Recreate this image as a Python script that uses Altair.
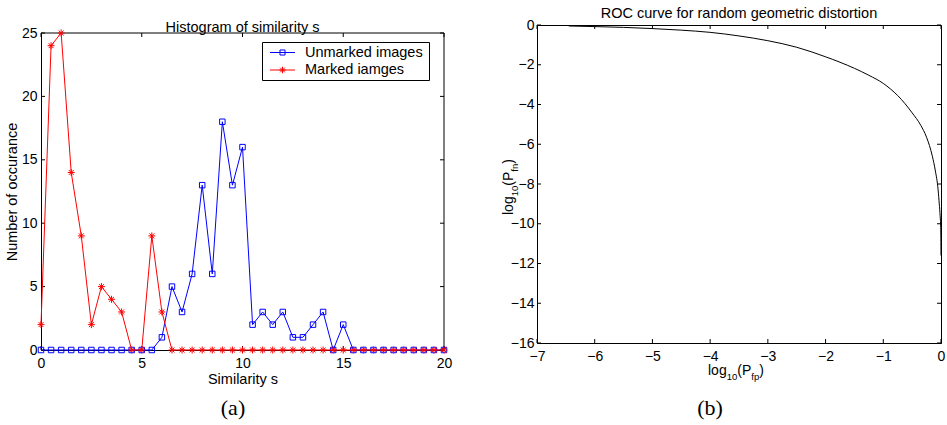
import altair as alt
import pandas as pd

# ---------------- data ----------------
sim_x = [0.0, 0.5, 1.0, 1.5, 2.0, 2.5, 3.0, 3.5, 4.0, 4.5, 5.0, 5.5, 6.0, 6.5,
         7.0, 7.5, 8.0, 8.5, 9.0, 9.5, 10.0, 10.5, 11.0, 11.5, 12.0, 12.5, 13.0,
         13.5, 14.0, 14.5, 15.0, 15.5, 16.0, 16.5, 17.0, 17.5, 18.0, 18.5, 19.0,
         19.5, 20.0]
unmarked = [0, 0, 0, 0, 0, 0, 0, 0, 0, 0, 0, 0, 1, 5, 3, 6, 13, 6, 18, 13, 16,
            2, 3, 2, 3, 1, 1, 2, 3, 0, 2, 0, 0, 0, 0, 0, 0, 0, 0, 0, 0]
marked = [2, 24, 25, 14, 9, 2, 5, 4, 3, 0, 0, 9, 3, 0, 0, 0, 0, 0, 0, 0, 0,
          0, 0, 0, 0, 0, 0, 0, 0, 0, 0, 0, 0, 0, 0, 0, 0, 0, 0, 0, 0]
series_names = ["Unmarked images", "Marked iamges"]
left_xticks = [0, 5, 10, 15, 20]
left_yticks = [0, 5, 10, 15, 20, 25]

roc_x = [-6.45, -6.0, -5.5, -5.0, -4.5, -4.0, -3.5, -3.0, -2.5, -2.0, -1.5,
         -1.25, -1.0, -0.875, -0.75, -0.5, -0.35, -0.25, -0.15, -0.1, -0.05,
         -0.03, -0.015, -0.005, 0.0]
roc_y = [-0.05, -0.08, -0.12, -0.18, -0.26, -0.37, -0.55, -0.79, -1.12, -1.6,
         -2.18, -2.53, -2.94, -3.22, -3.55, -4.42, -5.05, -5.65, -6.6, -7.3,
         -8.3, -9.0, -9.6, -10.2, -11.6]
right_xticks = [-7, -6, -5, -4, -3, -2, -1, 0]
right_yticks = [-16, -14, -12, -10, -8, -6, -4, -2, 0]

# ---------------- style ----------------
FONT = "Liberation Sans"
SERIF = "Liberation Serif"
BLUE = "#0000ff"
RED = "#ff0000"
LW, LH, LTOP = 403, 325, 8      # left plot box spans y = LTOP .. LH
RW, RH = 404, 318
TICK = 4

SQUARE = "M-1,-1H1V1H-1Z"
ASTER = "M0,-1V1M-1,0H1M-0.7,-0.7L0.7,0.7M-0.7,0.7L0.7,-0.7"
LEG_SQ = "M-1.79,0H1.79M-0.36,-0.36H0.36V0.36H-0.36ZM20.2,0L20.2,0"
LEG_AS = ("M-1.79,0H1.79M0,-0.46V0.46M-0.46,0H0.46M-0.33,-0.33L0.33,0.33"
          "M-0.33,0.33L0.33,-0.33M20.2,0L20.2,0")


def axis(title, values, pad, tpad):
    return alt.Axis(title=title, values=values, ticks=False, grid=False,
                    labelFont=FONT, labelFontSize=14, labelColor="black",
                    titleFont=FONT, titleFontSize=14.5, titleColor="black",
                    titleFontWeight="normal", domainColor="black",
                    domainWidth=1, labelPadding=pad, titlePadding=tpad,
                    labelFlush=False, labelOverlap=False)


rule = dict(color="black", strokeWidth=1)


def text_piece(txt, x, y, size, font=FONT, angle=0, align="left",
               baseline="alphabetic"):
    return alt.Chart(pd.DataFrame({"t": [txt]})).mark_text(
        font=font, fontSize=size, color="black", align=align,
        baseline=baseline, angle=angle).encode(
        text="t:N", x=alt.value(x), y=alt.value(y))


def frame_rule(x, x2, y, y2):
    return alt.Chart(pd.DataFrame({"t": [0]})).mark_rule(**rule).encode(
        x=alt.value(x), x2=alt.value(x2), y=alt.value(y), y2=alt.value(y2))


# ---------------- left panel ----------------
hist = pd.DataFrame({
    "s": sim_x + sim_x,
    "count": unmarked + marked,
    "series": [series_names[0]] * len(sim_x) + [series_names[1]] * len(sim_x),
})
xs_l = alt.Scale(domain=[0, 20], nice=False, zero=False)
ys_l = alt.Scale(domain=[0, 25], nice=False, range=[LH, LTOP])
X_l = alt.X("s:Q", scale=xs_l, axis=axis("Similarity s", left_xticks, 6, 2))
Y_l = alt.Y("count:Q", scale=ys_l,
            axis=axis("Number of occurance", left_yticks, 4, 2))

legend = alt.Legend(
    title=None, orient="none", legendX=221, legendY=17,
    strokeColor="black", fillColor="white", padding=3, cornerRadius=0,
    symbolSize=196, symbolStrokeWidth=1, symbolOffset=10,
    symbolFillColor="transparent",
    symbolType={"expr": "datum.value == '" + series_names[0] + "' ? '"
                + LEG_SQ + "' : '" + LEG_AS + "'"},
    labelFont=FONT, labelFontSize=14.5, labelColor="black", labelOffset=15,
    rowPadding=2.5, labelLimit=300,
)
color = alt.Color("series:N", scale=alt.Scale(domain=series_names,
                                              range=[BLUE, RED]),
                  legend=legend)

base_h = alt.Chart(hist).encode(x=X_l, y=Y_l)
blue_line = base_h.transform_filter(
    alt.datum.series == series_names[0]).mark_line(strokeWidth=1).encode(color=color)
blue_pts = base_h.transform_filter(
    alt.datum.series == series_names[0]).mark_point(
    shape=SQUARE, size=30, filled=False, color=BLUE, strokeWidth=1, opacity=1)
red_line = base_h.transform_filter(
    alt.datum.series == series_names[1]).mark_line(strokeWidth=1).encode(color=color)
red_pts = base_h.transform_filter(
    alt.datum.series == series_names[1]).mark_point(
    shape=ASTER, size=49, filled=False, color=RED, strokeWidth=1, opacity=1)

xt_l = alt.Chart(pd.DataFrame({"s": left_xticks}))
yt_l = alt.Chart(pd.DataFrame({"count": left_yticks}))
ticks_l = [
    xt_l.mark_rule(**rule).encode(x=X_l, y=alt.value(LH), y2=alt.value(LH - TICK)),
    xt_l.mark_rule(**rule).encode(x=X_l, y=alt.value(LTOP), y2=alt.value(LTOP + TICK)),
    yt_l.mark_rule(**rule).encode(y=Y_l, x=alt.value(0), x2=alt.value(TICK)),
    yt_l.mark_rule(**rule).encode(y=Y_l, x=alt.value(LW - TICK), x2=alt.value(LW)),
    frame_rule(0, LW, LTOP, LTOP),
    frame_rule(LW, LW, LTOP, LH),
]

cap_a = text_piece("(a)", 192, LH + 58, 22, font=SERIF, align="center",
                   baseline="middle")

left = alt.layer(*ticks_l, blue_line, blue_pts, red_line, red_pts,
                 cap_a).properties(
    width=LW, height=LH, view=alt.ViewBackground(stroke="transparent"),
    title=alt.TitleParams("Histogram of similarity s", font=FONT,
                          fontSize=14.5, fontWeight="normal", color="black",
                          anchor="middle", offset=-3, dy=LTOP - 1))

# ---------------- right panel ----------------
roc = pd.DataFrame({"x": roc_x, "y": roc_y})
xs_r = alt.Scale(domain=[-7, 0], nice=False, zero=False)
ys_r = alt.Scale(domain=[-16, 0], nice=False, zero=False)
X_r = alt.X("x:Q", scale=xs_r, axis=axis(None, right_xticks, 6, 2))
Y_r = alt.Y("y:Q", scale=ys_r, axis=axis(None, right_yticks, 3, 2))

curve = alt.Chart(roc).mark_line(color="black", strokeWidth=1,
                                 interpolate="monotone").encode(x=X_r, y=Y_r)
xt_r = alt.Chart(pd.DataFrame({"x": right_xticks}))
yt_r = alt.Chart(pd.DataFrame({"y": right_yticks}))
ticks_r = [
    xt_r.mark_rule(**rule).encode(x=X_r, y=alt.value(RH), y2=alt.value(RH - TICK)),
    xt_r.mark_rule(**rule).encode(x=X_r, y=alt.value(0), y2=alt.value(TICK)),
    yt_r.mark_rule(**rule).encode(y=Y_r, x=alt.value(0), x2=alt.value(TICK)),
    yt_r.mark_rule(**rule).encode(y=Y_r, x=alt.value(RW - TICK), x2=alt.value(RW)),
]

# composite axis titles with subscripts (Arial metric widths)
W = {"l": 222, "o": 556, "g": 556, "1": 556, "0": 556, "(": 333, "P": 667,
     "f": 278, "p": 556, "n": 556, ")": 333}


def tw(s, size):
    return sum(W[c] for c in s) * size / 1000.0


def composite(sub, horizontal, start, base):
    parts = [("log", 14, 0), ("10", 9.5, 5), ("(P", 14, 0), (sub, 9.5, 5),
             (")", 14, 0)]
    out = []
    pos = start
    for txt, size, shift in parts:
        if horizontal:
            out.append(text_piece(txt, pos, base + shift, size))
            pos += tw(txt, size)
        else:
            out.append(text_piece(txt, base + shift, pos, size, angle=270))
            pos -= tw(txt, size)
    return out


xtitle_r = composite("fp", True, 171, RH + 32)
ytitle_r = composite("fn", False, 190, -24)
cap_b = text_piece("(b)", 173, RH + 65, 22, font=SERIF, align="center",
                   baseline="middle")

right = alt.layer(*ticks_r, curve, *xtitle_r, *ytitle_r, cap_b).properties(
    width=RW, height=RH,
    title=alt.TitleParams("ROC curve for random geometric distortion",
                          font=FONT, fontSize=14.5, fontWeight="normal",
                          color="black", anchor="middle", offset=-3))

chart = alt.hconcat(left, right, spacing=48).configure(
    padding={"left": 3, "top": 5, "right": 0, "bottom": 0},
    background="white",
).configure_view(stroke="black", strokeWidth=1).configure_legend(
    labelFont=FONT, labelFontSize=14.5)

chart.save("out.html", embed_options={"renderer": "svg", "actions": False})
